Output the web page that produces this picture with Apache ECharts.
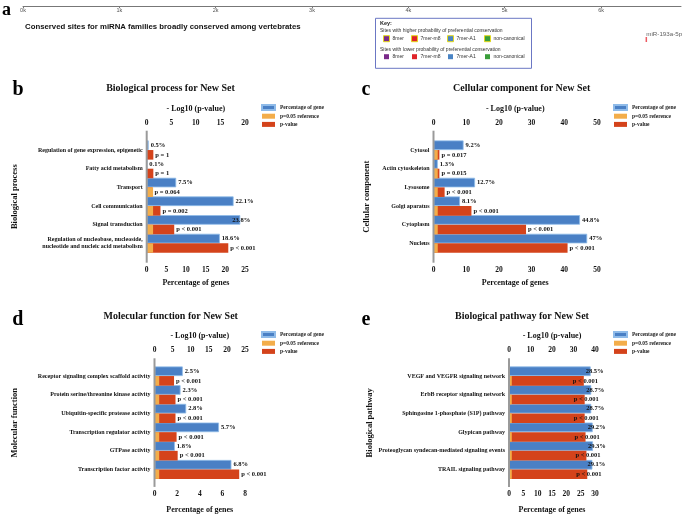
<!DOCTYPE html>
<html><head><meta charset="utf-8">
<script src="https://cdn.jsdelivr.net/npm/echarts@6/dist/echarts.min.js"></script>
<style>html,body{margin:0;padding:0;background:#fff}#c{width:685px;height:515px}</style>
</head><body><div id="c"></div>
<script>
// ---------- DATA ----------
// Panel a
const siteAxisMax = 6830;
const siteAxisStep = 1000;
const siteNames = ['miR-193a-5p'];
const sitePositions = [6470];
const keySiteTypes = ['8mer', '7mer-m8', '7mer-A1', 'non-canonical'];

// Panel b
const catsB = ['Regulation of gene expression, epigenetic', 'Fatty acid metabolism', 'Transport', 'Cell communication', 'Signal transduction', 'Regulation of nucleobase, nucleoside,\nnucleotide and nucleic acid metabolism'];
const pctB = [0.5, 0.1, 7.5, 22.1, 23.8, 18.6];
const logpB = [1.35, 1.35, 1.19, 2.8, 5.6, 16.6];
const refB = ['-', '-', 1.3, 1.3, 1.3, 1.3];
const plabB = ['p = 1', 'p = 1', 'p = 0.064', 'p = 0.002', 'p < 0.001', 'p < 0.001'];

// Panel c
const catsC = ['Cytosol', 'Actin cytoskeleton', 'Lysosome', 'Golgi aparatus', 'Cytoplasm', 'Nucleus'];
const pctC = [9.2, 1.3, 12.7, 8.1, 44.8, 47];
const logpC = [1.8, 1.8, 3.4, 11.6, 28.3, 41];
const refC = [1.3, 1.3, 1.3, 1.3, 1.3, 1.3];
const plabC = ['p = 0.017', 'p = 0.015', 'p < 0.001', 'p < 0.001', 'p < 0.001', 'p < 0.001'];

// Panel d
const catsD = ['Receptor signaling complex scaffold activity', 'Protein serine/threonine kinase activity', 'Ubiquitin-specific protease activity', 'Transcription regulator activity', 'GTPase activity', 'Transcription factor activity'];
const pctD = [2.5, 2.3, 2.8, 5.7, 1.8, 6.8];
const logpD = [5.4, 5.8, 5.8, 6.1, 6.4, 23.4];
const refD = [1.3, 1.3, 1.3, 1.3, 1.3, 1.3];
const plabD = ['p < 0.001', 'p < 0.001', 'p < 0.001', 'p < 0.001', 'p < 0.001', 'p < 0.001'];

// Panel e
const catsE = ['VEGF and VEGFR signaling network', 'ErbB receptor signaling network', 'Sphingosine 1-phosphate (S1P) pathway', 'Glypican pathway', 'Proteoglycan syndecan-mediated signaling events', 'TRAIL signaling pathway'];
const pctE = [28.5, 28.7, 28.7, 29.2, 29.3, 29.1];
const logpE = [34.8, 35.2, 35.2, 35.6, 36.0, 36.4];
const refE = [1.3, 1.3, 1.3, 1.3, 1.3, 1.3];
const plabE = ['p < 0.001', 'p < 0.001', 'p < 0.001', 'p < 0.001', 'p < 0.001', 'p < 0.001'];

const legendNames = ['Percentage of gene', 'p=0.05 reference', 'p-value'];

// ---------- STYLE / LAYOUT ----------
const SERIF = '"Liberation Serif", "Times New Roman", serif';
const SANS = '"Liberation Sans", Arial, sans-serif';
const C_BLUE = '#4a80c5', C_BLUE_B = '#8fbbe9', C_ORANGE = '#f3ad4a', C_RED = '#d4431b';
const BW = 9.6;

const panels = [
  { letter: 'b', title: 'Biological process for New Set', yName: 'Biological process',
    cats: catsB, pct: pctB, logp: logpB, ref: refB, plab: plabB,
    pctMax: 25, pctInt: 5, logMax: 20, logInt: 5,
    x0: 146.7, x1: 245, bt: 140.7, bb: 252.7, topOff: 10, botOff: 10, topGap: 17.5, botGap: 16, yGap: 127,
    legendX: 261, legendY: 104, titleX: 170.5, titleY: 88, letterX: 18, letterY: 90,
    blueShift: [0, 0, 0, 0, -10, 0], redShift: [0, 0, 0, 0, 0, 0] },
  { letter: 'c', title: 'Cellular component for New Set', yName: 'Cellular component',
    cats: catsC, pct: pctC, logp: logpC, ref: refC, plab: plabC,
    pctMax: 50, pctInt: 10, logMax: 50, logInt: 10,
    x0: 433.5, x1: 597, bt: 140.7, bb: 252.7, topOff: 10, botOff: 10, topGap: 17.5, botGap: 16, yGap: 62,
    legendX: 613, legendY: 104, titleX: 521.7, titleY: 88.3, letterX: 366, letterY: 89.5,
    blueShift: [0, 0, 0, 0, 0, 0], redShift: [0, 0, 0, 0, 0, 0] },
  { letter: 'd', title: 'Molecular function for New Set', yName: 'Molecular function',
    cats: catsD, pct: pctD, logp: logpD, ref: refD, plab: plabD,
    pctMax: 8, pctInt: 2, logMax: 25, logInt: 5,
    x0: 154.5, x1: 245, bt: 366.7, bb: 478.9, topOff: 8.4, botOff: 8, topGap: 18, botGap: 19, yGap: 135,
    legendX: 261, legendY: 331, titleX: 170.7, titleY: 316, letterX: 17.7, letterY: 319.4,
    blueShift: [0, 0, 0, 0, 0, 0], redShift: [0, 0, 0, 0, 0, 0] },
  { letter: 'e', title: 'Biological pathway for New Set', yName: 'Biological pathway',
    cats: catsE, pct: pctE, logp: logpE, ref: refE, plab: plabE,
    pctMax: 30, pctInt: 5, logMax: 40, logInt: 10,
    x0: 509, x1: 595, bt: 366.7, bb: 478.9, topOff: 8.4, botOff: 8, topGap: 18, botGap: 19, yGap: 134,
    legendX: 613, legendY: 331, titleX: 522, titleY: 316, letterX: 366, letterY: 319.4,
    blueShift: [-7, -7, -7, -7, -7, -7], redShift: [-13, -13, -13, -13, -13, -13] }
];

const txtBold = (size) => ({ fontFamily: SERIF, fontWeight: 'bold', fontSize: size, color: '#111' });

const grid = [], xAxis = [], yAxis = [], series = [], legend = [], graphic = [];

// ---------- Panel a ----------
grid.push({ left: 23, right: 4, top: 6, height: 20 });
xAxis.push({ gridIndex: 0, type: 'value', min: 0, max: siteAxisMax, interval: siteAxisStep, position: 'top',
  axisLine: { onZero: false, lineStyle: { color: '#777', width: 1 } },
  axisTick: { inside: true, length: 2, lineStyle: { color: '#777' } },
  axisLabel: { inside: true, margin: 1, fontSize: 5.5, color: '#555', fontFamily: SANS, showMaxLabel: false,
    formatter: v => (v / 1000) + 'k' },
  splitLine: { show: false } });
yAxis.push({ gridIndex: 0, type: 'value', min: 0, max: 1, show: false });
grid.push({ left: 23, right: 4, top: 35, height: 9 });
xAxis.push({ gridIndex: 1, type: 'value', min: 0, max: siteAxisMax, show: false });
yAxis.push({ gridIndex: 1, type: 'category', data: siteNames, show: false });
series.push({ type: 'scatter', xAxisIndex: 1, yAxisIndex: 1, symbol: 'rect', symbolSize: [1.5, 5],
  itemStyle: { color: '#e8303a' }, silent: true,
  data: sitePositions.map((p, i) => [p, siteNames[i]]),
  label: { show: true, position: 'top', distance: 0, align: 'left', fontSize: 6.2, color: '#333', fontFamily: SANS,
    formatter: p => p.value[1] } });

graphic.push({ type: 'text', x: 6.5, y: 10.7, style: { text: 'a', fontFamily: SERIF, fontWeight: 'bold', fontSize: 18, fill: '#000', align: 'center', verticalAlign: 'middle' } });
graphic.push({ type: 'text', x: 25, y: 26.7, style: { text: 'Conserved sites for miRNA families broadly conserved among vertebrates', fontFamily: SANS, fontWeight: 'bold', fontSize: 7.8, fill: '#111', align: 'left', verticalAlign: 'middle' } });
// key box
graphic.push({ type: 'rect', shape: { x: 375.5, y: 18.3, width: 156, height: 50 }, style: { fill: '#fff', stroke: '#6b77c4', lineWidth: 1 } });
graphic.push({ type: 'text', x: 380, y: 23.5, style: { text: 'Key:', fontFamily: SANS, fontWeight: 'bold', fontSize: 5.5, fill: '#222', verticalAlign: 'middle' } });
graphic.push({ type: 'text', x: 380, y: 30.7, style: { text: 'Sites with higher probability of preferential conservation', fontFamily: SANS, fontSize: 5, fill: '#333', verticalAlign: 'middle' } });
graphic.push({ type: 'text', x: 380, y: 50, style: { text: 'Sites with lower probability of preferential conservation', fontFamily: SANS, fontSize: 5, fill: '#333', verticalAlign: 'middle' } });
const keyColors = ['#7a2a8a', '#e0242a', '#4a84c4', '#3a9e3a'];
const keyX = [383.5, 411.5, 447.5, 484.5];
keySiteTypes.forEach((t, i) => {
  graphic.push({ type: 'rect', shape: { x: keyX[i], y: 35.7, width: 6, height: 6 }, style: { fill: keyColors[i], stroke: '#e3d81c', lineWidth: 1 } });
  graphic.push({ type: 'text', x: keyX[i] + 9, y: 38.7, style: { text: t, fontFamily: SANS, fontSize: 5, fill: '#333', verticalAlign: 'middle' } });
  graphic.push({ type: 'rect', shape: { x: keyX[i] + 0.5, y: 54.2, width: 5, height: 5 }, style: { fill: keyColors[i] } });
  graphic.push({ type: 'text', x: keyX[i] + 9, y: 56.7, style: { text: t, fontFamily: SANS, fontSize: 5, fill: '#333', verticalAlign: 'middle' } });
});

// ---------- Panels b-e ----------
const withShift = (vals, shifts) => vals.map((v, i) => shifts[i] ? { value: v, label: { offset: [shifts[i], 0] } } : v);

panels.forEach((P, k) => {
  const gi = grid.length;
  grid.push({ left: P.x0, top: P.bt, width: P.x1 - P.x0, height: P.bb - P.bt });
  const xPct = xAxis.length;
  xAxis.push({ gridIndex: gi, type: 'value', min: 0, max: P.pctMax, interval: P.pctInt, position: 'bottom', offset: P.botOff,
    name: 'Percentage of genes', nameLocation: 'middle', nameGap: P.botGap, nameTextStyle: txtBold(8),
    axisLine: { onZero: false, lineStyle: { color: '#333', width: 1 } }, axisTick: { length: 3, lineStyle: { color: '#333' } },
    axisLabel: Object.assign({ margin: 3 }, txtBold(7.5)), splitLine: { show: false } });
  const xLog = xAxis.length;
  xAxis.push({ gridIndex: gi, type: 'value', min: 0, max: P.logMax, interval: P.logInt, position: 'top', offset: P.topOff,
    name: '- Log10 (p-value)', nameLocation: 'middle', nameGap: P.topGap, nameTextStyle: txtBold(8),
    axisLine: { onZero: false, lineStyle: { color: '#333', width: 1 } }, axisTick: { length: 3, lineStyle: { color: '#333' } },
    axisLabel: Object.assign({ margin: 4 }, txtBold(7.5)), splitLine: { show: false } });
  const yCat = yAxis.length;
  yAxis.push({ gridIndex: gi, type: 'category', data: P.cats, inverse: true,
    name: P.yName, nameLocation: 'middle', nameGap: P.yGap, nameTextStyle: txtBold(8.5),
    axisLine: { show: false }, axisTick: { alignWithLabel: true, length: 3, lineStyle: { color: '#333' } },
    axisLabel: Object.assign({ margin: 4, lineHeight: 7 }, txtBold(6)) });
  const yHid = yAxis.length;
  yAxis.push({ gridIndex: gi, type: 'category', data: P.cats, inverse: true, show: false });

  const barLabel = { show: true, position: 'right', distance: 2, fontFamily: SERIF, fontWeight: 'bold', fontSize: 6.5, color: '#111' };
  series.push({ type: 'bar', name: legendNames[0], xAxisIndex: xPct, yAxisIndex: yCat, barWidth: BW, barGap: '0%',
    data: withShift(P.pct, P.blueShift),
    itemStyle: { color: C_BLUE, borderColor: C_BLUE_B, borderWidth: 0.8 },
    label: Object.assign({}, barLabel, { formatter: p => p.value + '%' }) });
  series.push({ type: 'bar', name: legendNames[2], xAxisIndex: xLog, yAxisIndex: yCat, barWidth: BW, barGap: '0%',
    data: withShift(P.logp, P.redShift),
    itemStyle: { color: C_RED },
    label: Object.assign({}, barLabel, { formatter: p => P.plab[p.dataIndex] }) });
  series.push({ type: 'bar', name: '_slot', xAxisIndex: xPct, yAxisIndex: yHid, barWidth: BW, barGap: '0%', silent: true,
    data: P.cats.map(() => '-') });
  series.push({ type: 'bar', name: legendNames[1], xAxisIndex: xLog, yAxisIndex: yHid, barWidth: BW, barGap: '0%',
    data: P.ref, itemStyle: { color: C_ORANGE } });

  legend.push({ data: legendNames, orient: 'vertical', left: P.legendX, top: P.legendY, padding: 0,
    itemWidth: 13, itemHeight: 5, itemGap: 2.2, icon: 'rect', selectedMode: false,
    textStyle: { fontFamily: SERIF, fontWeight: 'bold', fontSize: 5.5, color: '#222' } });

  const ly0 = P.bt - P.topOff, ly1 = P.bb + P.botOff;
  graphic.push({ type: 'line', shape: { x1: P.x0, y1: ly0, x2: P.x0, y2: ly1 }, style: { stroke: '#9a9a9a', lineWidth: 2 }, z: 10 });
  graphic.push({ type: 'text', x: P.titleX, y: P.titleY, style: { text: P.title, fontFamily: SERIF, fontWeight: 'bold', fontSize: 10, fill: '#111', align: 'center', verticalAlign: 'middle' } });
  graphic.push({ type: 'text', x: P.letterX, y: P.letterY, style: { text: P.letter, fontFamily: SERIF, fontWeight: 'bold', fontSize: 20, fill: '#000', align: 'center', verticalAlign: 'middle' } });
});

const chart = echarts.init(document.getElementById('c'), null, { renderer: 'canvas' });
chart.setOption({ animation: false, backgroundColor: '#fff', grid, xAxis, yAxis, series, legend, graphic });
</script>
</body></html>
